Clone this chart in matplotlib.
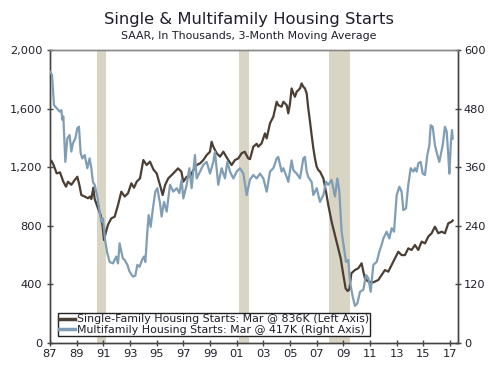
import matplotlib
matplotlib.use("Agg")
import matplotlib.pyplot as plt
from matplotlib.ticker import FuncFormatter

plt.rcParams['font.family'] = ['DejaVu Sans']

# ---- data ----
sf_years = [1987.0, 1987.1, 1987.25, 1987.5, 1987.75, 1988.0, 1988.2, 1988.35, 1988.6, 1988.85,
            1989.05, 1989.2, 1989.35, 1989.6, 1989.85, 1990.0, 1990.1, 1990.25, 1990.35, 1990.6,
            1990.8, 1990.95, 1991.05, 1991.2, 1991.35, 1991.6, 1991.85, 1992.1, 1992.35, 1992.6,
            1992.85, 1993.1, 1993.3, 1993.5, 1993.75, 1994.0, 1994.25, 1994.5, 1994.75, 1995.0,
            1995.25, 1995.45, 1995.63, 1995.87, 1996.25, 1996.6, 1996.85, 1997.0, 1997.25, 1997.5,
            1997.75, 1998.0, 1998.25, 1998.5, 1998.75, 1999.0, 1999.12, 1999.25, 1999.5, 1999.75,
            2000.0, 2000.37, 2000.62, 2000.87, 2001.12, 2001.37, 2001.6, 2001.87, 2002.0, 2002.25,
            2002.5, 2002.62, 2002.87, 2003.12, 2003.25, 2003.5, 2003.75, 2004.0, 2004.12, 2004.37,
            2004.5, 2004.75, 2004.87, 2005.0, 2005.12, 2005.25, 2005.37, 2005.5, 2005.75, 2005.87,
            2006.0, 2006.12, 2006.25, 2006.37, 2006.5, 2006.62, 2006.75, 2006.87, 2007.0, 2007.12,
            2007.25, 2007.5, 2007.7, 2007.87, 2008.12, 2008.37, 2008.62, 2008.8, 2009.0, 2009.17,
            2009.32, 2009.45, 2009.6, 2009.87, 2010.12, 2010.37, 2010.5, 2010.62, 2010.87, 2011.25,
            2011.62, 2011.87, 2012.12, 2012.37, 2012.62, 2012.87, 2013.12, 2013.37, 2013.62, 2013.87,
            2014.12, 2014.37, 2014.62, 2014.87, 2015.12, 2015.37, 2015.62, 2015.87, 2016.12, 2016.37,
            2016.62, 2016.87, 2017.12, 2017.2]
sf_values = [1230, 1245, 1220, 1158, 1165, 1101, 1067, 1101, 1080, 1112,
             1135, 1080, 1010, 1000, 988, 1000, 983, 1060, 983, 919,
             874, 794, 703, 760, 808, 851, 862, 942, 1033, 1000,
             1022, 1090, 1060, 1101, 1124, 1249, 1215, 1238, 1185, 1158,
             1078, 1010, 1078, 1124, 1158, 1192, 1170, 1101, 1135, 1135,
             1181, 1215, 1226, 1249, 1283, 1306, 1374, 1340, 1295, 1272,
             1306, 1249, 1215, 1249, 1260, 1295, 1306, 1260, 1255, 1340,
             1360, 1340, 1363, 1431, 1397, 1500, 1545, 1647, 1624, 1613,
             1647, 1624, 1568, 1636, 1738, 1704, 1681, 1715, 1738, 1772,
             1749, 1738, 1704, 1602, 1511, 1420, 1329, 1261, 1204, 1181,
             1170, 1124, 1033, 942, 828, 737, 646, 578, 464, 373,
             355, 365, 476, 498, 510, 544, 487, 441, 419, 414,
             430, 464, 498, 487, 532, 578, 623, 600, 600, 646,
             635, 669, 635, 692, 680, 726, 749, 794, 749, 760,
             749, 817, 828, 836]

mf_years = [1987.0, 1987.15, 1987.3, 1987.5, 1987.72, 1987.85, 1987.93, 1988.0, 1988.15, 1988.3,
            1988.47, 1988.6, 1988.72, 1988.9, 1989.05, 1989.17, 1989.3, 1989.42, 1989.6, 1989.8,
            1989.97, 1990.1, 1990.22, 1990.35, 1990.55, 1990.72, 1990.85, 1990.97, 1991.15, 1991.3,
            1991.47, 1991.72, 1991.97, 1992.1, 1992.22, 1992.35, 1992.47, 1992.6, 1992.8, 1992.97,
            1993.22, 1993.4, 1993.55, 1993.72, 1993.9, 1994.05, 1994.15, 1994.3, 1994.4, 1994.55,
            1994.72, 1994.9, 1995.05, 1995.25, 1995.37, 1995.55, 1995.75, 1996.0, 1996.25, 1996.5,
            1996.7, 1996.87, 1997.0, 1997.25, 1997.45, 1997.62, 1997.87, 1998.0, 1998.25, 1998.5,
            1998.75, 1999.0, 1999.25, 1999.37, 1999.62, 1999.87, 2000.12, 2000.3, 2000.5, 2000.75,
            2001.0, 2001.25, 2001.5, 2001.75, 2002.0, 2002.25, 2002.5, 2002.75, 2003.0, 2003.25,
            2003.5, 2003.75, 2004.0, 2004.12, 2004.37, 2004.5, 2004.75, 2004.87, 2005.12, 2005.25,
            2005.5, 2005.75, 2006.0, 2006.12, 2006.25, 2006.37, 2006.62, 2006.75, 2007.0, 2007.25,
            2007.5, 2007.7, 2007.87, 2008.12, 2008.37, 2008.55, 2008.7, 2008.87, 2009.05, 2009.2,
            2009.37, 2009.5, 2009.7, 2009.87, 2010.05, 2010.25, 2010.5, 2010.7, 2010.87, 2011.05,
            2011.25, 2011.5, 2011.7, 2011.87, 2012.0, 2012.25, 2012.45, 2012.62, 2012.8, 2013.0,
            2013.2, 2013.37, 2013.5, 2013.7, 2013.87, 2014.05, 2014.25, 2014.37, 2014.5, 2014.62,
            2014.8, 2014.95, 2015.12, 2015.3, 2015.45, 2015.55, 2015.7, 2015.87, 2016.05, 2016.2,
            2016.3, 2016.45, 2016.62, 2016.75, 2016.87, 2016.95, 2017.07, 2017.15, 2017.2]
mf_values = [556, 549, 487, 481, 474, 477, 457, 464, 371, 419,
             426, 392, 409, 419, 440, 443, 389, 378, 385, 358,
             378, 358, 330, 324, 300, 269, 248, 255, 207, 184,
             166, 163, 177, 163, 204, 187, 173, 170, 160, 146,
             136, 138, 160, 156, 170, 177, 166, 228, 262, 238,
             276, 310, 317, 286, 259, 289, 269, 324, 310, 317,
             307, 334, 296, 324, 358, 317, 385, 337, 351, 365,
             371, 347, 371, 392, 324, 358, 337, 371, 351, 337,
             351, 358, 347, 303, 335, 344, 337, 347, 337, 310,
             351, 358, 378, 381, 351, 358, 340, 330, 374, 354,
             347, 337, 378, 381, 351, 340, 330, 303, 317, 289,
             303, 330, 324, 334, 300, 337, 310, 228, 194, 166,
             170, 125, 95, 76, 81, 105, 109, 139, 133, 105,
             160, 166, 187, 201, 214, 228, 214, 235, 228, 303,
             320, 310, 272, 276, 324, 358, 351, 358, 351, 368,
             371, 347, 344, 385, 405, 446, 443, 405, 385, 371,
             385, 405, 443, 433, 385, 347, 412, 436, 419]

recessions = [(1990.55, 1991.2), (2001.2, 2001.95), (2007.95, 2009.5)]

sf_label = "Single-Family Housing Starts: Mar @ 836K (Left Axis)"
mf_label = "Multifamily Housing Starts: Mar @ 417K (Right Axis)"
x_ticks = list(range(1987, 2018, 2))
x_labels = [f"{y % 100:02d}" for y in x_ticks]
left_ticks = [0, 400, 800, 1200, 1600, 2000]
right_ticks = [0, 120, 240, 360, 480, 600]

# ---- styling ----
brown = '#4a3e35'
blue = '#7f9db5'
shade = '#d9d5c5'
spine_c = '#444444'
text_c = '#1e1e2a'

fig = plt.figure(figsize=(5.0, 3.68), dpi=100)
ax = fig.add_axes([0.1, 0.068, 0.8155, 0.796])
ax2 = ax.twinx()

for a, b in recessions:
    ax.axvspan(a, b, color=shade, lw=0, zorder=0)

l1, = ax.plot(sf_years, sf_values, color=brown, lw=1.6, label=sf_label, zorder=3)
l2, = ax2.plot(mf_years, mf_values, color=blue, lw=1.6, label=mf_label, zorder=3)

ax.set_xlim(1987, 2017.58)
ax.set_ylim(0, 2000)
ax2.set_ylim(0, 600)
ax.set_xticks(x_ticks)
ax.set_xticklabels(x_labels)
ax.set_yticks(left_ticks)
ax.yaxis.set_major_formatter(FuncFormatter(lambda v, p: f"{int(v):,}"))
ax2.set_yticks(right_ticks)

for a in (ax, ax2):
    for s in a.spines.values():
        s.set_color(spine_c)
        s.set_linewidth(1.0)
    a.spines['top'].set_color('#888888')
ax.tick_params(axis='both', direction='inout', length=5, width=1, color=spine_c,
               labelsize=8.2, labelcolor=text_c, pad=2)
ax2.tick_params(axis='y', direction='inout', length=5, width=1, color=spine_c,
                labelsize=8.2, labelcolor=text_c, pad=2)
ax.tick_params(axis='y', pad=3)

leg = ax2.legend(handles=[l1, l2], loc='lower left', bbox_to_anchor=(0.0196, 0.024),
                 borderaxespad=0, fontsize=7.95, frameon=True, fancybox=False,
                 edgecolor='#222222', framealpha=1, handlelength=1.4, handletextpad=0.2,
                 labelspacing=0.02, borderpad=0.12)
leg.get_frame().set_linewidth(1.0)
for t in leg.get_texts():
    t.set_color(text_c)
for h in leg.legend_handles:
    h.set_linewidth(2.5)

fig.text(0.498, 0.946, "Single & Multifamily Housing Starts", ha='center', va='center',
         fontsize=11.8, color=text_c)
fig.text(0.498, 0.901, "SAAR, In Thousands, 3-Month Moving Average", ha='center', va='center',
         fontsize=7.95, color=text_c)

fig.savefig("out.png", dpi=100)
